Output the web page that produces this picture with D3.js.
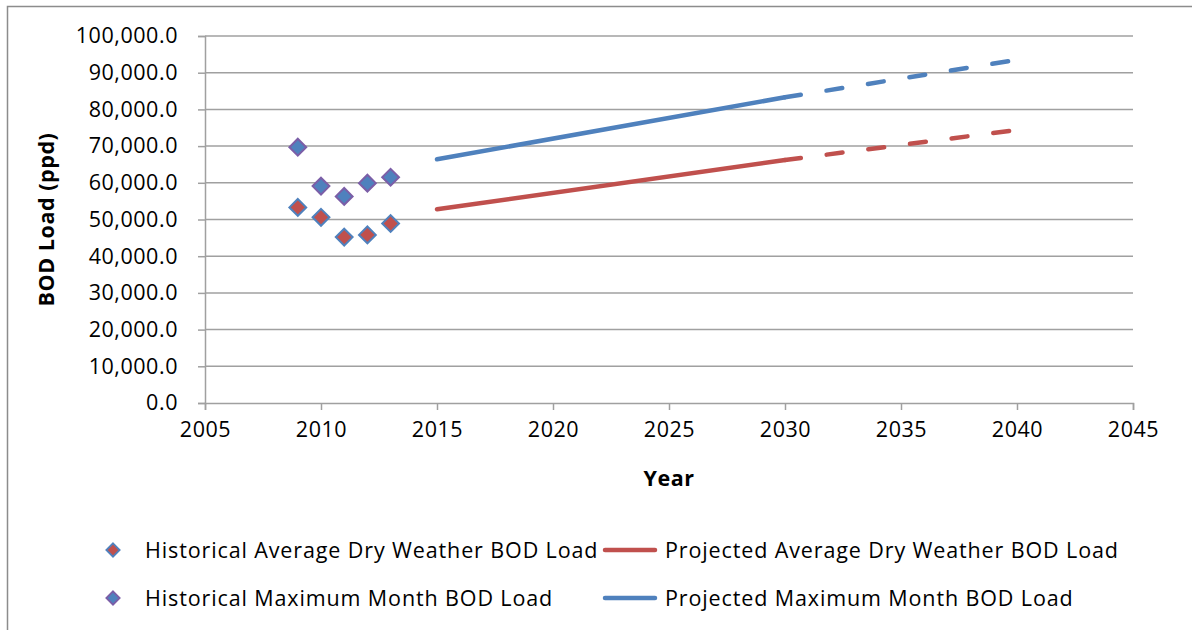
<!DOCTYPE html>
<html>
<head>
<meta charset="utf-8">
<script src="https://cdn.jsdelivr.net/npm/d3@7"></script>
<style>
  html, body { margin: 0; padding: 0; background: #fff; }
  svg { display: block; font-family: "Open Sans", Lato, sans-serif; }
</style>
</head>
<body>
<svg id="chart" width="1192" height="630"></svg>
<script>
// Historical BOD loads (ppd)
const histYears = [2009, 2010, 2011, 2012, 2013];
const histAvgDry = [53300, 50600, 45200, 45800, 48900];
const histMaxMonth = [69700, 59100, 56300, 59900, 61500];

// Projected BOD loads: solid through 2030, dashed beyond
const projYears = [2015, 2030, 2040];
const projAvgDry = [52800, 66200, 74400];
const projMaxMonth = [66400, 83300, 93500];

const xTicks = [2005, 2010, 2015, 2020, 2025, 2030, 2035, 2040, 2045];
const yTicks = [0, 10000, 20000, 30000, 40000, 50000, 60000, 70000, 80000, 90000, 100000];

const seriesNames = [
  "Historical Average Dry Weather BOD Load",
  "Projected Average Dry Weather BOD Load",
  "Historical Maximum Month BOD Load",
  "Projected Maximum Month BOD Load"
];

const RED = "#C0504D", BLUE = "#4F81BD", PURPLE = "#7B5EA7";
const GRID = "#a0a0a0";
const FONT = "'Open Sans', Lato, sans-serif";
const FS = 21.5;
const LS = 0.55;

const svg = d3.select("#chart");

// outer chart frame
svg.append("rect")
  .attr("x", 7.5).attr("y", 6.5)
  .attr("width", 1300).attr("height", 700)
  .attr("fill", "#fff").attr("stroke", "#8c8c8c").attr("stroke-width", 1.5);

const x = d3.scaleLinear().domain([2005, 2045]).range([205, 1133]);
const y = d3.scaleLinear().domain([0, 100000]).range([403, 36]);

// horizontal gridlines
svg.append("g").selectAll("line").data(yTicks.slice(1)).join("line")
  .attr("x1", x(2005)).attr("x2", x(2045))
  .attr("y1", d => y(d)).attr("y2", d => y(d))
  .attr("stroke", GRID).attr("stroke-width", 1.5);

const fmt = d3.format(",.1f");

// y axis
const yAxis = svg.append("g")
  .attr("transform", `translate(${x(2005)},0)`)
  .call(d3.axisLeft(y).tickValues(yTicks).tickFormat(fmt).tickSize(7).tickPadding(20));
yAxis.select(".domain").attr("stroke", GRID).attr("stroke-width", 1.5);
yAxis.selectAll(".tick line").attr("stroke", GRID).attr("stroke-width", 1.5);
yAxis.selectAll(".tick text").attr("fill", "#000").attr("font-size", FS)
  .attr("font-family", FONT).attr("letter-spacing", LS);

// x axis
const xAxis = svg.append("g")
  .attr("transform", `translate(0,${y(0)})`)
  .call(d3.axisBottom(x).tickValues(xTicks).tickFormat(d3.format("d")).tickSize(7).tickPadding(12));
xAxis.select(".domain").attr("stroke", GRID).attr("stroke-width", 1.5);
xAxis.selectAll(".tick line").attr("stroke", GRID).attr("stroke-width", 1.5);
xAxis.selectAll(".tick text").attr("fill", "#000").attr("font-size", FS)
  .attr("font-family", FONT).attr("letter-spacing", LS);

// axis titles
svg.append("text")
  .attr("x", x(2025)).attr("y", 486)
  .attr("text-anchor", "middle").attr("font-size", FS).attr("font-weight", "bold")
  .attr("letter-spacing", LS)
  .text("Year");
svg.append("text")
  .attr("transform", `translate(54,${y(50000)}) rotate(-90)`)
  .attr("text-anchor", "middle").attr("font-size", FS).attr("font-weight", "bold")
  .attr("letter-spacing", LS)
  .text("BOD Load (ppd)");

// projected lines
const line = d3.line().x(d => x(d[0])).y(d => y(d[1]));
function drawProjection(vals, color) {
  const pts = projYears.map((yr, i) => [yr, vals[i]]);
  svg.append("path").datum(pts.slice(0, 2)).attr("d", line)
    .attr("fill", "none").attr("stroke", color).attr("stroke-width", 4.5)
    .attr("stroke-linecap", "round");
  svg.append("path").datum(pts.slice(1)).attr("d", line)
    .attr("fill", "none").attr("stroke", color).attr("stroke-width", 4.5)
    .attr("stroke-linecap", "round").attr("stroke-dasharray", "16,26");
}
drawProjection(projAvgDry, RED);
drawProjection(projMaxMonth, BLUE);

// historical markers
const diamond = d3.symbol().type(d3.symbolDiamond2);
function drawMarkers(vals, fill, stroke, r) {
  svg.append("g").selectAll("path").data(histYears.map((yr, i) => [yr, vals[i]])).join("path")
    .attr("d", diamond.size(r * r * 2)())
    .attr("transform", d => `translate(${x(d[0])},${y(d[1])})`)
    .attr("fill", fill).attr("stroke", stroke).attr("stroke-width", 2);
}
drawMarkers(histMaxMonth, BLUE, PURPLE, 9.5);
drawMarkers(histAvgDry, RED, BLUE, 9.5);

// legend
const legend = svg.append("g");
const legendRows = [550, 598];
function legendMarker(cx, cy, fill, stroke) {
  legend.append("path").attr("d", diamond.size(7.5 * 7.5 * 2)())
    .attr("transform", `translate(${cx},${cy})`)
    .attr("fill", fill).attr("stroke", stroke).attr("stroke-width", 1.8);
}
function legendLine(cx, cy, color) {
  legend.append("line").attr("x1", cx).attr("x2", cx + 50).attr("y1", cy).attr("y2", cy)
    .attr("stroke", color).attr("stroke-width", 4.5).attr("stroke-linecap", "round");
}
function legendText(tx, cy, t) {
  legend.append("text").attr("x", tx).attr("y", cy).attr("dy", "0.36em")
    .attr("font-size", FS).attr("letter-spacing", 0.88).attr("fill", "#000").text(t);
}
legendMarker(113, legendRows[0], RED, BLUE);
legendText(145, legendRows[0], seriesNames[0]);
legendLine(605, legendRows[0], RED);
legendText(665, legendRows[0], seriesNames[1]);
legendMarker(113, legendRows[1], BLUE, PURPLE);
legendText(145, legendRows[1], seriesNames[2]);
legendLine(605, legendRows[1], BLUE);
legendText(665, legendRows[1], seriesNames[3]);
</script>
</body>
</html>
